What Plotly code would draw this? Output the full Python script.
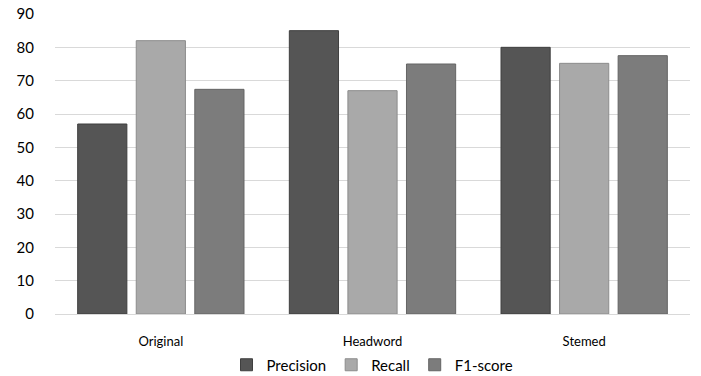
import plotly.graph_objects as go

# Evaluation scores per text-normalisation variant
categories = ["Original", "Headword", "Stemed"]
precision = [57.0, 85.0, 80.0]
recall = [82.0, 67.0, 75.2]
f1_score = [67.4, 75.0, 77.5]

series = [
    ("Precision", precision, "#555555", "#3f3f3f"),
    ("Recall", recall, "#a9a9a9", "#8c8c8c"),
    ("F1-score", f1_score, "#7c7c7c", "#646464"),
]

fig = go.Figure()
for name, vals, fill, edge in series:
    fig.add_trace(go.Bar(
        name=name, x=categories, y=vals,
        marker=dict(color=fill, line=dict(color=edge, width=1)),
    ))

font_family = "Lato, 'Open Sans', sans-serif"
fig.update_layout(
    width=701, height=376,
    margin=dict(l=55, r=11, t=14, b=62, autoexpand=False),
    paper_bgcolor="white", plot_bgcolor="white",
    barmode="group", bargap=0.17, bargroupgap=0.16,
    font=dict(family=font_family, color="#000000"),
    showlegend=True,
    legend=dict(orientation="h", x=0.5, xanchor="center", y=-0.17, yanchor="middle",
                font=dict(size=15), itemwidth=30, traceorder="normal",
                tracegroupgap=0, borderwidth=0),
    xaxis=dict(showgrid=False, showline=False, tickfont=dict(size=13),
               ticks="outside", ticklen=15, tickcolor="rgba(0,0,0,0)",
               automargin=False),
    yaxis=dict(range=[0, 90], dtick=10, showgrid=True, gridcolor="#d9d9d9",
               gridwidth=1, zeroline=True, zerolinecolor="#d9d9d9", zerolinewidth=1,
               showline=False, tickfont=dict(size=15), ticklabelstandoff=20,
               automargin=False),
)

fig.write_html("out.html")
